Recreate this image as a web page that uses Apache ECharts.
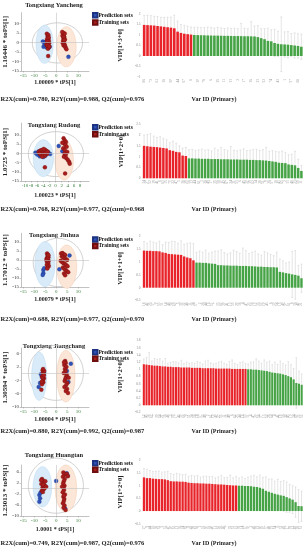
<!DOCTYPE html>
<html><head><meta charset="utf-8">
<script src="https://cdn.jsdelivr.net/npm/echarts@6/dist/echarts.min.js"></script>
<style>html,body{margin:0;padding:0;background:#fff;}#c{width:306px;height:550px;}</style>
</head><body><div id="c"></div>
<script>
// ---------------- DATA ----------------
const regions = ['Tongxiang Yancheng','Tongxiang Rudong','Tongxiang Jinhua','Tongxiang Jiangchang','Tongxiang Huangtan'];
const xNames = ['1.00009 * tPS[1]','1.00023 * tPS[1]','1.00079 * tPS[1]','1.00004 * tPS[1]','1.0001 * tPS[1]'];
const yNames = ['1.16446 * toPS[1]','1.0725 * toPS[1]','1.17012 * toPS[1]','1.30594 * toPS[1]','1.23013 * toPS[1]'];
const vipNames = ['VIP[1+3+0]','VIP[1+2+0]','VIP[1+1+0]','VIP[1+2+0]','VIP[1+2+0]'];
const stats = ['R2X(cum)=0.780, R2Y(cum)=0.988, Q2(cum)=0.976','R2X(cum)=0.768, R2Y(cum)=0.977, Q2(cum)=0.968','R2X(cum)=0.688, R2Y(cum)=0.977, Q2(cum)=0.970','R2X(cum)=0.880, R2Y(cum)=0.992, Q2(cum)=0.987','R2X(cum)=0.749, R2Y(cum)=0.987, Q2(cum)=0.976'];
const xAxisTitle = 'Var ID (Primary)';
const legendNames = ['Prediction sets','Training sets'];

// scatter tick labels
const xTicks = [[-15,-10,-5,0,5,10],[-10,-8,-6,-4,-2,0,2,4,6,8],[-15,-10,-5,0,5,10],[-15,-10,-5,0,5,10],[-15,-10,-5,0,5,10]];
const yTicks = [[-15,-10,-5,0,5,10],[-15,-10,-5,0,5,10],[-15,-10,-5,0,5,10],[-10,-6,-2,2,6],[-10,-6,-2,2,6]];

// score points
const predX1 = [-6.1,-5.8,-4.4,-3.0,-5.3,-4.9,5.5];
const predY1 = [0.4,-2.3,-2.7,-2.3,-1.0,0.3,-7.6];
const trainX1 = [-4.3,-3.9,-3.6,-4.1,-3.7,-3.3,-4.5,-4.0,-3.5,-3.8,-4.2,-3.4,-3.9,-3.6,-4.0,-3.5,-3.2,-4.1,-3.7,3.0,3.4,2.8,3.6,3.2,3.9,3.1,3.5,2.9,3.7,3.3,4.0,3.4,3.8,4.2,4.6,3.6,2.7];
const trainY1 = [4.5,3.2,2.0,1.0,0.2,-0.5,-1.2,-2.0,-2.8,-3.3,1.8,0.8,-0.8,3.8,-1.6,2.6,-2.2,0.4,-7.2,5.0,4.2,3.5,2.8,2.2,1.5,0.8,0.2,-0.4,-1.0,-1.6,-2.0,3.0,4.6,-2.8,-3.6,1.2,5.4];

const predX2 = [-6.6,-6.0,-5.2,-4.6,-3.3,-2.4,-1.8,-5.6,-4.0,1.0,2.2];
const predY2 = [0.4,-0.6,-1.6,0.2,-1.2,0.6,-0.4,1.0,-2.0,4.0,1.2];
const trainX2 = [-5.5,-5.0,-4.5,-4.2,-3.8,-3.5,-3.2,-2.8,-4.8,-4.0,-3.6,-3.0,-5.2,-4.4,-3.4,-2.6,-3.9,-3.5,2.6,3.0,3.4,2.8,3.2,3.6,2.5,3.0,3.8,2.9,3.3,2.7,3.5,4.0,4.4,4.6,3.1,2.2];
const trainY2 = [0.8,1.5,1.8,0.4,1.2,2.0,0.6,-0.3,-0.8,-0.5,-1.4,1.4,-0.2,-1.8,0.2,0.9,2.4,-7.6,8.2,7.0,6.2,5.4,4.6,3.6,2.8,1.8,0.8,0.0,-0.8,-1.8,-2.6,-3.6,-4.6,-5.6,-10.9,5.8];

const predX3 = [-5.9,-5.9,-6.2,-5.5,1.4,6.0];
const predY3 = [-5.6,-7.4,-8.3,-4.6,-5.2,2.5];
const trainX3 = [-4.2,-3.8,-4.0,-3.6,-4.4,-3.9,-3.5,-4.1,-3.7,-4.3,-3.4,-4.0,-3.8,-4.5,-3.6,-4.1,2.2,2.8,3.4,4.0,2.5,3.1,3.7,4.3,4.9,2.0,2.7,3.3,3.9,4.5,5.1,3.0,3.6,4.2,4.8,5.4,3.5,4.0];
const trainY3 = [3.6,2.9,2.2,1.5,0.8,0.1,-0.6,-1.3,-2.0,-2.7,-3.4,-4.1,1.1,-0.2,2.6,-4.8,3.6,3.8,3.2,2.8,2.0,1.5,1.0,0.6,0.0,-0.5,-1.2,-1.8,-2.3,-2.9,-3.5,-4.2,-4.9,-5.6,-6.2,-6.8,-7.5,-8.5];

const predX4 = [-5.7,-6.6,-7.4,-8.0,-7.0,6.6,5.5,4.8];
const predY4 = [0.4,-1.0,-2.8,-4.0,-0.2,3.0,-2.5,0.8];
const trainX4 = [-6.2,-6.0,-5.8,-6.4,-5.6,-6.1,-5.9,-6.5,-5.5,-6.3,-6.8,-6.0,-5.7,-6.6,4.0,4.3,3.6,4.6,3.9,4.2,3.4,4.8,4.4,4.1,3.8,5.0,4.5,3.7,4.9,4.3,5.3,5.6,3.5];
const trainY4 = [1.0,0.4,-0.2,-0.8,-1.4,-2.0,-2.6,-3.2,0.8,-1.1,-4.8,1.4,-0.5,-2.4,3.8,3.2,2.6,2.0,1.4,0.8,0.2,-0.4,-1.0,-1.6,-2.2,-2.8,-3.4,-4.0,-4.6,-5.2,-5.8,-1.2,3.4];

const predX5 = [-7.7,-7.4,-7.7,-7.2,-0.1,4.7,4.0,5.2];
const predY5 = [-2.4,-3.6,-4.8,-1.6,2.7,5.5,-7.3,4.6];
const trainX5 = [-6.5,-6.0,-5.6,-6.8,-5.2,-6.2,-5.8,-6.6,-5.0,-6.1,-5.4,-6.9,-5.9,-4.6,3.2,3.6,3.0,3.8,3.4,3.1,3.7,3.3,3.5,2.9,3.9,3.2,3.6,3.4,3.0,3.7,3.3,4.2,4.8,5.2,3.5,2.6];
const trainY5 = [3.4,2.8,2.2,1.6,1.0,0.4,-0.2,-0.8,2.6,-1.3,0.0,3.0,1.3,0.6,5.8,5.0,4.2,3.4,2.6,1.8,1.0,0.2,-0.6,-1.4,-2.2,-3.0,-3.8,-4.6,-5.4,-6.2,-7.0,-7.8,5.2,4.4,-2.6,0.6];

// confidence ellipses [cx, cy, rx, ry] : grey (T2), prediction, training
const ellGrey = [[0.5,-0.3,11.4,10.5],[0.1,-0.4,9.0,12.2],[0.85,-1.4,11.35,13.4],[-0.2,0.25,12.5,8.25],[-0.2,1.0,12.5,10.0]];
const ellPred = [[-5.3,-1.0,3.9,10.0],[-4.0,-2.6,3.3,10.0],[-5.15,-2.3,4.55,12.5],[-7.8,-0.75,3.4,7.25],[-6.3,0.6,4.2,7.3]];
const ellTrain = [[4.6,-2.3,4.4,10.5],[2.8,-3.6,3.0,10.9],[4.75,-3.7,4.55,12.0],[4.35,-0.75,4.15,7.75],[4.35,0.0,4.9,8.5]];

// VIP bars (sorted), error half-widths, number of red (VIP>1) bars, variable IDs
const vip1 = [1.48,1.47,1.46,1.45,1.43,1.41,1.39,1.37,1.35,1.32,1.16,1.10,1.06,1.04,1.02,1.00,0.995,0.99,0.985,0.98,0.975,0.97,0.97,0.965,0.96,0.96,0.955,0.95,0.95,0.945,0.94,0.94,0.935,0.93,0.90,0.85,0.80,0.72,0.70,0.62,0.58,0.56,0.55,0.54,0.52,0.50,0.48,0.44];
const err1 = [0.45,0.47,0.46,0.44,0.45,0.43,0.45,0.48,0.5,0.62,0.5,0.4,0.4,0.38,0.36,0.37,0.38,0.36,0.37,0.4,0.38,0.36,0.39,0.37,0.35,0.38,0.36,0.37,0.35,0.6,0.38,0.36,0.7,0.5,0.55,0.45,0.5,0.6,0.55,0.65,0.6,1.3,0.6,0.62,0.55,0.6,0.58,0.6];
const ids1 = ['86','4','72','15','61','9','38','27','50','3','44','12','67','21','8','55','30','19','78','41','6','63','25','47','11','70','33','58','2','81','17','49','36','65','23','7','52','29','74','14','43','60','1','35','57','20','68','46'];

const vip2 = [1.50,1.48,1.46,1.45,1.44,1.42,1.40,1.38,1.30,1.27,1.22,1.20,1.05,1.03,0.92,0.92,0.91,0.91,0.90,0.90,0.90,0.89,0.89,0.89,0.88,0.88,0.88,0.87,0.87,0.87,0.86,0.86,0.86,0.85,0.85,0.84,0.84,0.83,0.82,0.80,0.78,0.76,0.72,0.71,0.70,0.64,0.62,0.60,0.48,0.34];
const err2 = [0.5,0.55,0.6,0.5,0.45,0.5,0.45,0.4,0.35,0.45,0.4,0.3,0.35,0.4,0.4,0.42,0.38,0.4,0.45,0.4,0.42,0.38,0.5,0.42,0.55,0.45,0.4,0.6,0.42,0.4,0.45,0.5,0.42,0.45,0.48,0.5,0.45,0.5,0.6,0.45,0.5,0.48,0.5,0.55,0.5,0.45,0.5,0.65,0.4,0.25];
const ids2 = ['34','27','52','19','41','8','63','15','70','22','47','5','38','29','56','12','44','61','3','26','49','17','35','58','10','42','67','24','31','53','6','45','20','39','62','14','28','51','9','36','57','18','43','65','2','33','48','23','59','11'];

const vip3 = [1.45,1.44,1.44,1.43,1.43,1.42,1.38,1.36,1.32,1.31,1.30,1.29,1.28,1.22,1.18,1.15,1.07,0.98,0.98,0.97,0.97,0.95,0.94,0.93,0.88,0.88,0.87,0.87,0.86,0.86,0.86,0.85,0.85,0.85,0.84,0.84,0.83,0.82,0.82,0.81,0.81,0.80,0.80,0.79,0.62,0.60,0.57,0.55,0.52,0.50,0.47,0.37];
const err3 = [0.35,0.3,0.38,0.35,0.32,0.4,0.3,0.42,0.45,0.5,0.5,0.45,0.55,0.48,0.55,0.6,0.65,0.4,0.45,0.42,0.5,0.4,0.45,0.5,0.55,0.6,0.5,0.45,0.5,0.6,0.55,0.5,0.7,0.6,0.5,0.55,0.6,0.5,0.45,0.6,0.55,0.5,0.45,0.6,0.5,0.45,0.4,0.45,0.9,0.95,0.4,0.55];
const ids3 = ['18','42','25','37','9','53','31','14','46','28','60','5','39','22','48','11','34','57','2','26','44','16','51','7','33','62','20','41','13','55','29','38','4','47','23','58','10','35','50','19','43','6','30','54','15','40','27','61','8','36','49','21'];

const vip4 = [1.14,1.13,1.12,1.11,1.10,1.10,1.09,1.08,1.08,1.07,1.07,1.06,1.06,1.06,1.05,1.05,1.05,1.05,1.04,1.04,1.04,1.04,1.03,1.03,1.03,1.03,1.03,1.02,1.02,1.02,1.02,1.02,1.02,1.01,1.01,1.01,1.01,1.01,1.01,1.0,1.0,0.99,0.99,0.98,0.97,0.96,0.95,0.93,0.91,0.90,0.89,0.88,0.86,0.84,0.81,0.78,0.72,0.62,0.60,0.57];
const err4 = [0.15,0.2,0.35,0.12,0.2,0.18,0.2,0.15,0.22,0.1,0.12,0.15,0.15,0.12,0.2,0.12,0.15,0.12,0.14,0.12,0.18,0.15,0.12,0.2,0.22,0.15,0.12,0.15,0.18,0.2,0.15,0.12,0.2,0.25,0.15,0.12,0.18,0.2,0.15,0.15,0.2,0.22,0.3,0.25,0.2,0.3,0.25,0.3,0.22,0.3,0.25,0.35,0.3,0.28,0.4,0.35,0.3,0.7,0.35,0.3];
const ids4 = ['12','45','28','63','7','39','54','21','36','48','3','59','17','42','30','66','9','51','24','38','14','57','33','46','2','61','19','40','27','55','11','35','49','6','62','23','44','16','53','31','8','47','20','58','37','13','50','26','64','4','41','18','56','29','43','10','34','60','22','52'];

const vip5 = [1.33,1.30,1.30,1.28,1.27,1.26,1.26,1.25,1.22,1.18,1.17,1.17,1.16,1.16,1.15,1.12,1.11,1.10,1.10,1.09,1.09,1.08,1.08,1.07,1.06,1.05,1.05,1.04,1.03,1.02,1.01,1.01,1.0,1.0,0.99,0.99,0.98,0.96,0.95,0.92,0.88,0.80,0.76,0.72,0.68,0.65,0.62,0.60,0.55,0.50,0.45,0.35,0.20,0.19];
const err5 = [0.35,0.35,0.3,0.28,0.3,0.32,0.28,0.3,0.35,0.3,0.28,0.32,0.3,0.28,0.3,0.25,0.3,0.28,0.3,0.25,0.28,0.3,0.28,0.3,0.25,0.3,0.35,0.28,0.3,0.4,0.3,0.35,0.3,0.35,0.3,0.35,0.4,0.45,0.4,0.5,0.45,0.55,0.5,0.55,0.5,0.6,0.55,0.6,0.6,0.55,0.55,0.6,0.65,0.6];
const ids5 = ['27','9','44','16','38','52','5','31','47','20','61','13','36','24','55','8','42','29','58','3','33','50','18','40','11','63','26','46','7','35','53','21','39','14','57','30','2','45','19','60','10','37','48','23','54','6','32','43','17','59','12','41','28','51'];

const redCount = [15,14,17,39,32];

// ---------------- LAYOUT / STYLE ----------------
const FONT = '"Liberation Serif", "Times New Roman", serif';
const C_PRED = '#2f52b8', C_TRAIN = '#a81c1c', C_RED = '#e8242a', C_GREEN = '#46a346';
const layout = [
  {title:5,   stat:99,  sg:[21,12.7,68,58.3], sx:[-16.05,14.85], sy:[-15,15.5], xg:8.7,  bg:[14,63],     by:[-1,2],     bi:0.5, lt:12,    lgap:0.7, li:1},
  {title:125, stat:209, sg:[21,123,68,58],    sx:[-11.3,10.9],   sy:[-15,16.5], xg:11,   bg:[124.2,54.1], by:[0,2.5],   bi:0.5, lt:124,   lgap:0.5, li:0},
  {title:235, stat:319, sg:[21,233.3,68,53.7],sx:[-16.05,14.85], sy:[-15,14.8], xg:9.3,  bg:[236.5,64],  by:[-0.5,2],   bi:0.5, lt:236.3, lgap:0,   li:0},
  {title:346, stat:431, sg:[21,348,68,59],    sx:[-16.05,14.85], sy:[-10,7.7],  xg:9.3,  bg:[340.5,72],  by:[-0.2,1.8], bi:0.2, lt:349,   lgap:0,   li:0},
  {title:455, stat:543, sg:[21,465,68,51],    sx:[-16.05,14.85], sy:[-10,8.5],  xg:10.3, bg:[460.4,63.3],by:[-0.5,2],   bi:0.5, lt:460,   lgap:0,   li:0}
];

const predX=[predX1,predX2,predX3,predX4,predX5], predY=[predY1,predY2,predY3,predY4,predY5];
const trainX=[trainX1,trainX2,trainX3,trainX4,trainX5], trainY=[trainY1,trainY2,trainY3,trainY4,trainY5];
const vips=[vip1,vip2,vip3,vip4,vip5], errs=[err1,err2,err3,err4,err5], ids=[ids1,ids2,ids3,ids4,ids5];
const zip=(a,b)=>a.map((v,k)=>[v,b[k]]);

function ellipseItem(params, api){
  const c = api.coord([api.value(0), api.value(1)]);
  const s = api.size([api.value(2), api.value(3)]);
  const t = api.value(4);
  const pts = [];
  for (let k=0;k<90;k++){ const a=k/90*2*Math.PI; pts.push([c[0]+s[0]*Math.cos(a), c[1]+s[1]*Math.sin(a)]); }
  const st = t===0 ? {fill:'none', stroke:'#c4c4c4', lineWidth:0.8}
          : t===1 ? {fill:'#d9ebf8', stroke:'#b5d6f0', lineWidth:0.5}
                  : {fill:'#fce6d7', stroke:'#f2c9ad', lineWidth:0.5};
  return {type:'polygon', shape:{points:pts}, style:st};
}
function errItem(params, api){
  const x = api.value(0);
  const lo = api.coord([x, api.value(1)]);
  const hi = api.coord([x, api.value(2)]);
  const w = api.size([1,0])[0]*0.3;
  const st = {stroke:'#d4d4d4', lineWidth:0.6};
  return {type:'group', children:[
    {type:'line', shape:{x1:hi[0],y1:hi[1],x2:lo[0],y2:lo[1]}, style:st},
    {type:'line', shape:{x1:hi[0]-w,y1:hi[1],x2:hi[0]+w,y2:hi[1]}, style:st},
    {type:'line', shape:{x1:lo[0]-w,y1:lo[1],x2:lo[0]+w,y2:lo[1]}, style:st}]};
}

const grids=[], xAxes=[], yAxes=[], series=[], legends=[], graphics=[];
for (let i=0;i<5;i++){
  const L = layout[i];
  grids.push({left:L.sg[0], top:L.sg[1], width:L.sg[2], height:L.sg[3]});
  grids.push({left:142.5, top:L.bg[0], width:160.5, height:L.bg[1]});
  xAxes.push({gridIndex:2*i, type:'value', min:L.sx[0], max:L.sx[1], splitLine:{show:false},
    axisLine:{onZero:false, lineStyle:{color:'#999', width:0.6}},
    axisTick:{customValues:xTicks[i], length:1.5, lineStyle:{color:'#999', width:0.5}},
    axisLabel:{customValues:xTicks[i], fontSize:5, color:'#2f7a32', margin:2, fontFamily:FONT},
    name:xNames[i], nameLocation:'middle', nameGap:L.xg,
    nameTextStyle:{fontFamily:FONT, fontWeight:'bold', fontSize:6, color:'#222'}});
  yAxes.push({gridIndex:2*i, type:'value', min:L.sy[0], max:L.sy[1], splitLine:{show:false},
    axisLine:{onZero:false, lineStyle:{color:'#999', width:0.6}},
    axisTick:{customValues:yTicks[i], length:1.5, lineStyle:{color:'#999', width:0.5}},
    axisLabel:{customValues:yTicks[i], fontSize:5, color:'#333', margin:2, fontFamily:FONT},
    name:yNames[i], nameLocation:'middle', nameRotate:90, nameGap:10.5,
    nameTextStyle:{fontFamily:FONT, fontWeight:'bold', fontSize:7, color:'#222'}});
  xAxes.push({gridIndex:2*i+1, type:'category', data:ids[i], axisLine:{show:false}, axisTick:{show:false},
    axisLabel:{rotate:90, fontSize:3.5, color:'#999', interval:L.li, margin:2, fontFamily:FONT}});
  yAxes.push({gridIndex:2*i+1, type:'value', min:L.by[0], max:L.by[1], interval:L.bi, splitLine:{show:false},
    axisLine:{show:false}, axisTick:{show:false},
    axisLabel:{fontSize:3.5, color:'#888', margin:2, fontFamily:FONT},
    name:vipNames[i], nameLocation:'middle', nameRotate:90, nameGap:7,
    nameTextStyle:{fontFamily:FONT, fontWeight:'bold', fontSize:6.5, color:'#222'}});

  const xs=2*i, ys=2*i, xb=2*i+1, yb=2*i+1;
  series.push({type:'custom', xAxisIndex:xs, yAxisIndex:ys, renderItem:ellipseItem, silent:true, z:1, clip:false,
    data:[[...ellGrey[i],0],[...ellPred[i],1],[...ellTrain[i],2]]});
  series.push({type:'scatter', name:legendNames[0], xAxisIndex:xs, yAxisIndex:ys, data:zip(predX[i],predY[i]),
    symbolSize:4, z:3, itemStyle:{color:C_PRED, borderColor:'#1d3580', borderWidth:0.3, opacity:1},
    markLine:{silent:true, symbol:'none', animation:false, label:{show:false},
      lineStyle:{color:'#c2c2c2', width:0.6, type:'solid'}, data:[{xAxis:0},{yAxis:0}]}});
  series.push({type:'scatter', name:legendNames[1], xAxisIndex:xs, yAxisIndex:ys, data:zip(trainX[i],trainY[i]),
    symbolSize:4, z:4, itemStyle:{color:C_TRAIN, borderColor:'#6e0f0f', borderWidth:0.3, opacity:1}});
  series.push({type:'custom', xAxisIndex:xb, yAxisIndex:yb, renderItem:errItem, silent:true, z:1,
    encode:{x:0, y:[1,2]},
    data:vips[i].map((v,k)=>[k, +(v-errs[i][k]).toFixed(3), +(v+errs[i][k]).toFixed(3)])});
  series.push({type:'bar', xAxisIndex:xb, yAxisIndex:yb, barCategoryGap:'22%', z:2, silent:true,
    data:vips[i].map((v,k)=>({value:v, itemStyle:{color: k<redCount[i] ? C_RED : C_GREEN}}))});

  legends.push({data:legendNames, orient:'vertical', left:92, top:L.lt, itemGap:L.lgap, itemWidth:4.5, itemHeight:4.5,
    icon:'rect', padding:0, selectedMode:false,
    textStyle:{fontFamily:FONT, fontWeight:'bold', fontSize:5.5, color:'#111', lineHeight:6, padding:[0,0,0,-4]}});

  graphics.push({type:'text', x:54, y:L.title, style:{text:regions[i], font:'bold 6.5px '+FONT, fill:'#222',
    align:'center', verticalAlign:'middle', textAlign:'center', textVerticalAlign:'middle'}});
  graphics.push({type:'text', x:0.5, y:L.stat, style:{text:stats[i], font:'bold 6.5px '+FONT, fill:'#222',
    align:'left', verticalAlign:'middle', textAlign:'left', textVerticalAlign:'middle'}});
  graphics.push({type:'text', x:214, y:L.stat, style:{text:xAxisTitle, font:'bold 6px '+FONT, fill:'#222',
    align:'center', verticalAlign:'middle', textAlign:'center', textVerticalAlign:'middle'}});
}

const chart = echarts.init(document.getElementById('c'), null, {renderer:'canvas', width:306, height:550});
chart.setOption({animation:false, backgroundColor:'#fff', grid:grids, xAxis:xAxes, yAxis:yAxes,
  series:series, legend:legends, graphic:graphics});
</script></body></html>
